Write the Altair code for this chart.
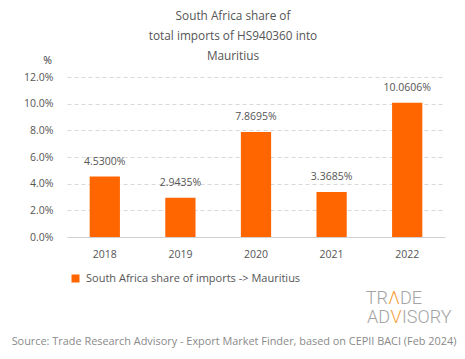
import altair as alt
import pandas as pd

years = ["2018", "2019", "2020", "2021", "2022"]
shares = [0.045300, 0.029435, 0.078695, 0.033685, 0.100606]
series_name = "South Africa share of imports -> Mauritius"
title_lines = ["South Africa share of", "total imports of HS940360 into", "Mauritius"]
source_text = "Source: Trade Research Advisory - Export Market Finder, based on CEPII BACI (Feb 2024)"
y_ticks = [0, 0.02, 0.04, 0.06, 0.08, 0.10, 0.12]

FONT = "Open Sans"
ORANGE = "#FF6600"
GREY = "#555555"

df = pd.DataFrame({"year": years, "share": shares, "series": [series_name] * len(years)})

x_enc = alt.X(
    "year:N",
    scale=alt.Scale(paddingInner=0.6, paddingOuter=0.3),
    axis=alt.Axis(title=None, labelAngle=0, ticks=False, domainColor="#d0d0d0",
                  labelPadding=12, labelFontSize=10.5, labelColor=GREY, labelFont=FONT),
)
y_enc = alt.Y(
    "share:Q",
    scale=alt.Scale(domain=[0, 0.12], nice=False),
    axis=alt.Axis(format=".1%", values=y_ticks, grid=True, gridDash=[4, 3], gridColor="#d9d9d9",
                  domain=False, ticks=False, labelPadding=14, labelFontSize=10.5,
                  labelColor=GREY, labelFont=FONT, labelOverlap=False,
                  title="%", titleAngle=0, titleX=-20, titleY=-17, titleAlign="center",
                  titleBaseline="middle", titleFontSize=10.5, titleFontWeight="normal",
                  titleColor="#333", titleFont=FONT),
)

base = alt.Chart(df)
bars = base.mark_bar().encode(
    x=x_enc,
    y=y_enc,
    color=alt.Color(
        "series:N",
        scale=alt.Scale(domain=[series_name], range=[ORANGE]),
        legend=alt.Legend(title=None, orient="none", legendX=3, legendY=196,
                          symbolType="square", symbolSize=64, symbolStrokeWidth=0,
                          labelFontSize=11, labelColor=GREY, labelFont=FONT, labelOffset=5,
                          labelLimit=400),
    ),
)
labels = base.mark_text(dy=-15, fontSize=10.5, color=GREY, font=FONT).encode(
    x=x_enc, y=y_enc, text=alt.Text("share:Q", format=".4%")
)

def note(txt, x, y, size=11, color=GREY, align="center", weight="normal", font=FONT):
    return alt.Chart(pd.DataFrame({"t": [txt]})).mark_text(
        align=align, baseline="middle", fontSize=size, color=color, font=font, fontWeight=weight
    ).encode(x=alt.value(x), y=alt.value(y), text="t:N")

title_marks = [note(t, 166, yy, size=11.8) for t, yy in zip(title_lines, [-61, -41.5, -21])]
source_mark = note(source_text, 167, 265, size=10.9, color="#8a8a8a")

LOGO_FONT = "Roboto"
LOGO_GREY = "#a3a3a3"
LOGO_ORANGE = "#F4A13A"
LS = 18
logo = [
    note("TR", 321, 222, size=LS, color=LOGO_GREY, align="right", font=LOGO_FONT, weight=300),
    note("Λ", 327, 222, size=LS, color=LOGO_ORANGE, align="center", font=LOGO_FONT, weight=300),
    note("DE", 333, 222, size=LS, color=LOGO_GREY, align="left", font=LOGO_FONT, weight=300),
    note("AD", 323, 241, size=LS, color=LOGO_GREY, align="right", font=LOGO_FONT, weight=300),
    note("V", 329, 241, size=LS, color=LOGO_ORANGE, align="center", font=LOGO_FONT, weight=300),
    note("ISORY", 335, 241, size=LS, color=LOGO_GREY, align="left", font=LOGO_FONT, weight=300),
]

chart = alt.layer(bars, labels, *title_marks, source_mark, *logo).properties(
    width=378, height=160,
    autosize=alt.AutoSizeParams(type="none"),
    padding={"left": 59, "top": 69, "right": 12, "bottom": 114},
).configure_view(stroke=None)

chart.save("out.html", embed_options={"renderer": "svg", "actions": False})
